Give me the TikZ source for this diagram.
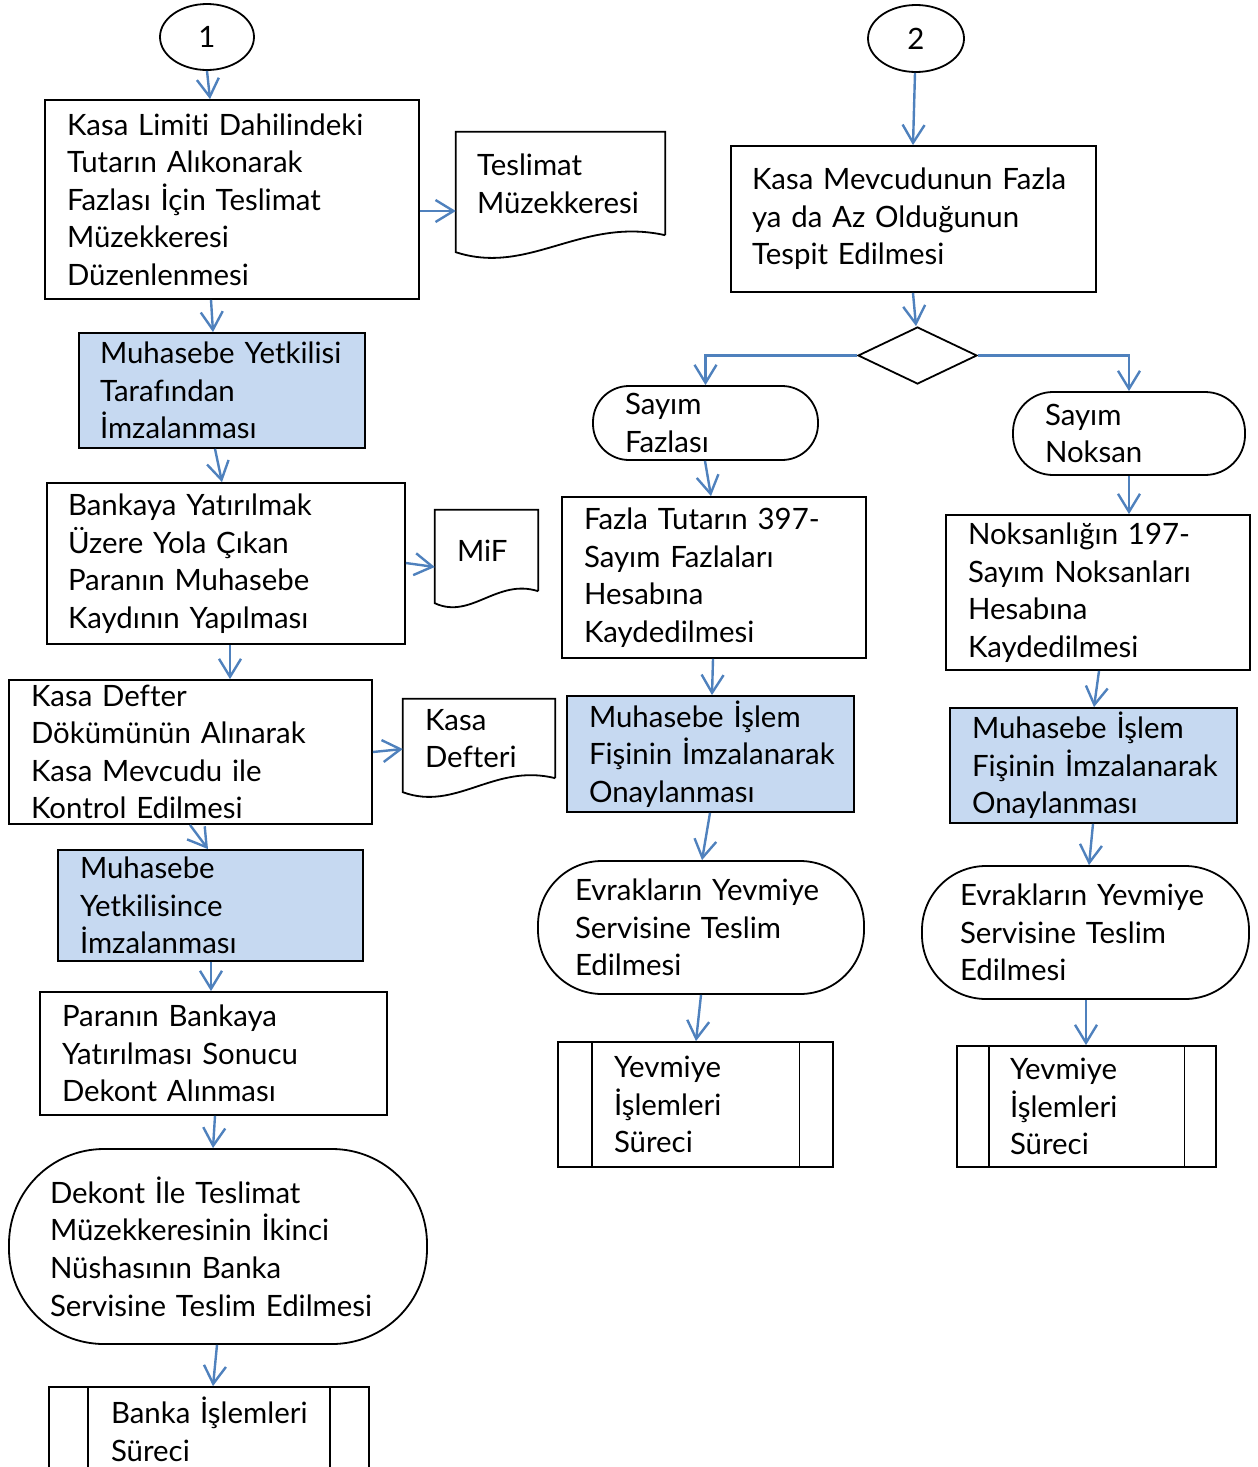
\documentclass[tikz,border=0pt]{standalone}
\usepackage{fontspec}
\setmainfont{Lato}[Ligatures={NoCommon}]
\usetikzlibrary{shapes.geometric, arrows.meta, calc}
\definecolor{flowblue}{RGB}{79,129,189}
\definecolor{signblue}{RGB}{198,217,241}
\hyphenpenalty=10000
\exhyphenpenalty=10000
% document outline: #1 node, #2 drop of the left corner
\newcommand{\docedge}[2]{%
	\draw [outline] (#1.south east) -- (#1.north east) -- (#1.north west) -- ([yshift=-#2pt]#1.south west)
		.. controls ($(#1.south west)!0.35!(#1.south east)+(0,{-2.4*#2 pt})$) and ($(#1.south west)!0.6!(#1.south east)+(0,{1.1*#2 pt})$) .. (#1.south east);}
% predefined process bars: #1 node, #2 inset
\newcommand{\subbars}[2]{%
	\draw [outline] ([xshift=#2pt]#1.north west) -- ([xshift=#2pt]#1.south west);
	\draw [outline] ([xshift=-#2pt]#1.north east) -- ([xshift=-#2pt]#1.south east);}
\begin{document}
\begin{tikzpicture}
	[
	x=1pt, y=-1pt,
	outline/.style={draw=black, line width=1.8pt},
	boxtext/.style={inner sep=0pt, align=left, font=\fontsize{29.4}{37.6}\selectfont},
	proc/.style={boxtext, outline, rectangle, fill=white},
	sign/.style={proc, fill=signblue},
	term/.style={proc},
	docu/.style={boxtext, rectangle},
	conn/.style={boxtext, outline, ellipse},
	choice/.style={outline, diamond, inner sep=0pt, fill=white},
	flow/.style={draw=flowblue, line width=2.4pt, -{Straight Barb[length=18pt,width=22pt]}}
	]
		\useasboundingbox (0,0) rectangle (1258,1467);

		% left
		\node (c1) [conn, minimum width=94pt, minimum height=66pt] at (207,37) {1};
		\node (kasalimit) [proc, minimum width=374pt, minimum height=199pt, text width=330pt] at (232,199.5)
			{Kasa Limiti Dahilindeki\\Tutarın Alıkonarak\\Fazlası İçin Teslimat\\Müzekkeresi\\Düzenlenmesi};
		\node (imza1) [sign, minimum width=286pt, minimum height=115pt, text width=244pt] at (222,390.5)
			{Muhasebe~Yetkilisi\\Tarafından\\İmzalanması};
		\node (kayit) [proc, minimum width=358pt, minimum height=161pt, text width=316pt] at (226,563.5)
			{Bankaya Yatırılmak\\Üzere Yola Çıkan\\Paranın Muhasebe\\Kaydının Yapılması};
		\node (kontrol) [proc, minimum width=363pt, minimum height=144pt, text width=319pt] at (190.5,752)
			{Kasa Defter\\Dökümünün Alınarak\\Kasa Mevcudu ile\\Kontrol Edilmesi};
		\node (imza2) [sign, minimum width=305pt, minimum height=111pt, text width=261pt] at (210.5,905.5)
			{Muhasebe\\Yetkilisince\\İmzalanması};
		\node (dekont) [proc, minimum width=347pt, minimum height=123pt, text width=303pt] at (213.5,1053.5)
			{Paranın Bankaya\\Yatırılması Sonucu\\Dekont Alınması};
		\node (banka) [term, rounded corners=95pt, minimum width=418pt, minimum height=195pt, text width=336pt] at (218,1246.5)
			{Dekont İle Teslimat\\Müzekkeresinin İkinci\\Nüshasının Banka\\Servisine~Teslim~Edilmesi};
		\node (bankasurec) [proc, minimum width=320pt, minimum height=84pt, text width=196pt] at (209,1429)
			{Banka~İşlemleri\\Süreci};

		% documents
		\node (teslimat) [docu, minimum width=209pt, minimum height=103pt, text width=167pt] at (560.5,183.5)
			{Teslimat\\Müzekkeresi};
		\node (mif) [docu, minimum width=103pt, minimum height=81pt, text width=59pt] at (486.5,550.5) {MiF};
		\node (kasadefteri) [docu, minimum width=152pt, minimum height=79pt, text width=108pt] at (479,738.5)
			{Kasa\\Defteri};

		% right
		\node (c2) [conn, minimum width=96pt, minimum height=67pt] at (916,38.5) {2};
		\node (tespit) [proc, minimum width=365pt, minimum height=146pt, text width=323pt] at (913.5,219)
			{Kasa Mevcudunun Fazla\\ya da Az Olduğunun\\Tespit Edilmesi};
		\node (karar) [choice, minimum width=119pt, minimum height=57pt] at (917.5,355.5) {};

		\node (fazla) [term, rounded corners=36pt, minimum width=225pt, minimum height=74pt, text width=161pt] at (705.5,423)
			{Sayım\\Fazlası};
		\node (fazlakayit) [proc, minimum width=304pt, minimum height=161pt, text width=260pt] at (714,577.5)
			{Fazla Tutarın 397-\\Sayım Fazlaları\\Hesabına\\Kaydedilmesi};
		\node (onay1) [sign, minimum width=287pt, minimum height=116pt, text width=243pt] at (710.5,754)
			{Muhasebe İşlem\\Fişinin~İmzalanarak\\Onaylanması};
		\node (evrak1) [term, rounded corners=64pt, minimum width=326pt, minimum height=133pt, text width=252pt] at (701,927.5)
			{Evrakların~Yevmiye\\Servisine Teslim\\Edilmesi};
		\node (yevmiye1) [proc, minimum width=275pt, minimum height=125pt, text width=163pt] at (695.5,1104.5)
			{Yevmiye\\İşlemleri\\Süreci};

		\node (noksan) [term, rounded corners=40pt, minimum width=232pt, minimum height=83pt, text width=168pt] at (1129,433.5)
			{Sayım\\Noksan};
		\node (noksankayit) [proc, minimum width=304pt, minimum height=155pt, text width=260pt] at (1098,592.5)
			{Noksanlığın 197-\\Sayım Noksanları\\Hesabına\\Kaydedilmesi};
		\node (onay2) [sign, minimum width=287pt, minimum height=115pt, text width=243pt] at (1093.5,765.5)
			{Muhasebe İşlem\\Fişinin~İmzalanarak\\Onaylanması};
		\node (evrak2) [term, rounded corners=64pt, minimum width=327pt, minimum height=133pt, text width=251pt] at (1085.5,932.5)
			{Evrakların~Yevmiye\\Servisine Teslim\\Edilmesi};
		\node (yevmiye2) [proc, minimum width=259pt, minimum height=121pt, text width=153pt] at (1086.5,1106.5)
			{Yevmiye\\İşlemleri\\Süreci};

		% shape details
		\docedge{teslimat}{17}
		\docedge{mif}{12}
		\docedge{kasadefteri}{14}
		\subbars{bankasurec}{40}
		\subbars{yevmiye1}{34.5}
		\subbars{yevmiye2}{32.5}

		% drawing code
		\foreach \from/\fs/\to/\ts in {c1/0/kasalimit/-22, kasalimit/-21/imza1/-9, imza1/-7/kayit/-4,
			kayit/4/kontrol/39.5, kontrol/-0.5/imza2/-2.5, imza2/0.5/dekont/-2.5, dekont/1.5/banka/-5,
			banka/-1/bankasurec/4, c2/-1/tespit/-0.5, tespit/-0.5/karar/-1.5, fazla/-0.5/fazlakayit/-3,
			noksan/0/noksankayit/31, fazlakayit/-1/onay1/1.5, noksankayit/1/onay2/0.5, onay1/-0.5/evrak1/1,
			onay2/-0.5/evrak2/3.5, evrak1/0/yevmiye1/0.5, evrak2/0.5/yevmiye2/-0.5}
			\draw [flow] ([xshift=\fs pt]\from.south) -- ([xshift=\ts pt]\to.north);
		\foreach \from/\fs/\to/\ts in {kasalimit/-11.5/teslimat/-27.5, kayit/0.5/mif/-16.5, kontrol/0/kasadefteri/-10.5}
			\draw [flow] ([yshift=\fs pt]\from.east) -- ([yshift=\ts pt]\to.west);
		\draw [flow] (karar.west) -| (fazla.north);
		\draw [flow] (karar.east) -| (noksan.north);
	\end{tikzpicture}
\end{document}
